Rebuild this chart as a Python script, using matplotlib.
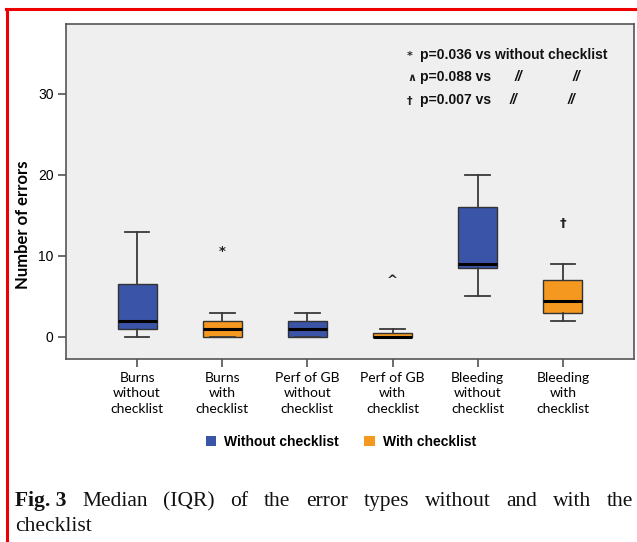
import matplotlib
matplotlib.use("Agg")
import matplotlib.pyplot as plt
from matplotlib.patches import Patch
from matplotlib.lines import Line2D

# box summaries: low whisker, Q1, median, Q3, high whisker
labels = ["Burns\nwithout\nchecklist", "Burns\nwith\nchecklist",
          "Perf of GB\nwithout\nchecklist", "Perf of GB\nwith\nchecklist",
          "Bleeding\nwithout\nchecklist", "Bleeding\nwith\nchecklist"]
whislo = [0, 0, 0, 0, 5, 2]
q1 = [1, 0, 0, 0, 8.5, 3]
med = [2, 1, 1, 0, 9, 4.5]
q3 = [6.5, 2, 2, 0.5, 16, 7]
whishi = [13, 3, 3, 1, 20, 9]
groups = ["Without checklist", "With checklist"]

# extreme values marked with the significance symbols
outlier_pos = [2, 4, 6]
outlier_val = [10.5, 7, 14]
outlier_sym = ["*", "^", "\u2020"]

notes = ["p=0.036 vs without checklist", "p=0.088 vs", "p=0.007 vs"]
note_sym = ["*", "\u2227", "\u2020"]

blue = "#3a54a8"
orange = "#f5981f"
colors = [blue, orange] * 3

W, H = 637, 542
fig = plt.figure(figsize=(W / 100, H / 100), dpi=100)


def fx(px):
    return px / W


def fy(py):
    return 1 - py / H


ax = fig.add_axes([fx(66), fy(359), fx(634) - fx(66), fy(24) - fy(359)])
ax.set_facecolor("#efefef")

stats = []
for i in range(len(labels)):
    stats.append({"whislo": whislo[i], "q1": q1[i], "med": med[i],
                  "q3": q3[i], "whishi": whishi[i], "fliers": []})

bp = ax.bxp(stats, positions=range(1, 7), widths=0.46, capwidths=0.29,
            patch_artist=True, showfliers=False,
            boxprops=dict(edgecolor="#333333", linewidth=1.0),
            whiskerprops=dict(color="#3a3a3a", linewidth=1.3),
            capprops=dict(color="#3a3a3a", linewidth=1.3),
            medianprops=dict(color="black", linewidth=2.2))
for box, c in zip(bp["boxes"], colors):
    box.set_facecolor(c)

for p, v, s in zip(outlier_pos, outlier_val, outlier_sym):
    ax.text(p, v, s, ha="center", va="center", fontsize=9.5,
            fontweight="bold", color="#222222", family="DejaVu Sans")

ax.set_xlim(0.165, 6.835)
ax.set_ylim(-2.72, 38.64)
ax.set_yticks([0, 10, 20, 30])
ax.set_xticks(range(1, 7))
ax.set_xticklabels(labels, family="Lato", fontsize=10, linespacing=1.38)
for t in ax.get_yticklabels():
    t.set_family("Liberation Sans")
    t.set_fontsize(10)
ax.tick_params(axis="both", direction="out", length=6, width=1.1,
               color="#444444", pad=3)
for sp in ax.spines.values():
    sp.set_color("#555555")
    sp.set_linewidth(1.2)
ax.set_ylabel("Number of errors", family="Lato", fontweight="bold",
              fontsize=12)
ax.yaxis.set_label_coords(-0.062, 0.4)

# significance notes, top right
note_y = [59, 81, 104]
for s, n, y in zip(note_sym, notes, note_y):
    fig.text(fx(407), fy(y), s, fontsize=8, fontweight="bold",
             family="DejaVu Sans", color="#222222", va="baseline")
    fig.text(fx(420), fy(y), n, fontsize=10, fontweight="bold",
             family="Liberation Sans", color="#111111", va="baseline")
for x, y in [(515, 81), (573, 81), (510, 104), (568, 104)]:
    fig.text(fx(x), fy(y), "//", fontsize=10, fontweight="bold",
             style="italic", family="Liberation Sans", color="#111111",
             va="baseline")

handles = [Patch(facecolor=blue, edgecolor="none"),
           Patch(facecolor=orange, edgecolor="none")]
leg = fig.legend(handles, groups, loc="center", ncol=2, frameon=False,
                 bbox_to_anchor=(fx(341), fy(442)), handlelength=0.75,
                 handleheight=0.75, handletextpad=0.6, columnspacing=1.8,
                 prop={"family": "Liberation Sans", "weight": "bold",
                       "size": 10})

# caption, justified like the journal text
renderer = fig.canvas.get_renderer()


def place_line(tokens, y, x0, x1, justify):
    texts = []
    for word, bold in tokens:
        t = fig.text(0, fy(y), word, fontsize=15.5, family="Liberation Serif",
                     fontweight="bold" if bold else "normal", va="baseline",
                     color="#111111")
        texts.append(t)
    widths = [t.get_window_extent(renderer).width for t in texts]
    if justify and len(texts) > 1:
        gap = (x1 - x0 - sum(widths)) / (len(texts) - 1)
    else:
        gap = 5
    x = x0
    for t, w in zip(texts, widths):
        t.set_x(fx(x))
        x += w + gap


line1 = [("Fig. 3", True), ("Median", False), ("(IQR)", False), ("of", False),
         ("the", False), ("error", False), ("types", False),
         ("without", False), ("and", False), ("with", False), ("the", False)]
place_line(line1, 506, 15, 633, True)
place_line([("checklist", False)], 531, 15, 633, False)

# red frame of the figure box
fig.add_artist(Line2D([fx(6), 1], [fy(9), fy(9)], color="#ee0000",
                      linewidth=2.2, transform=fig.transFigure))
fig.add_artist(Line2D([fx(7), fx(7)], [fy(9), 0], color="#ee0000",
                      linewidth=2.2, transform=fig.transFigure))

fig.savefig("out.png", dpi=100)
